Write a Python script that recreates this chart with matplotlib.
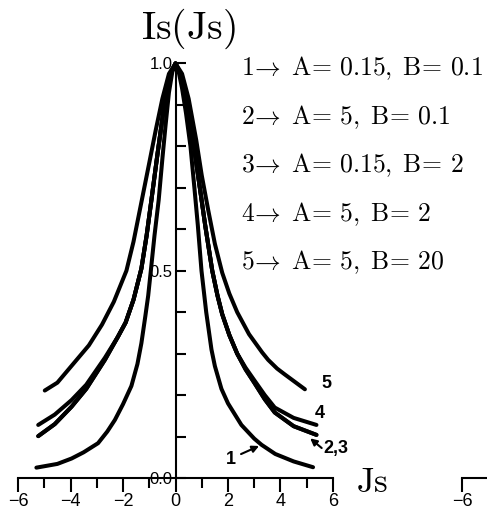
import numpy as np
import matplotlib
matplotlib.use('Agg')
import matplotlib.pyplot as plt
from matplotlib.ticker import FixedLocator

plt.rcParams['mathtext.fontset'] = 'cm'

# Values (Is vs Js), curves 2 and 3 coincide.
x1 = [-5.3, -4.5, -3.96, -3.5, -2.95, -2.6, -2.31, -2.0, -1.68, -1.45, -1.3, -1.15, -1.04,
      -0.94, -0.8, -0.64, -0.5, -0.38, -0.25, -0.12, 0.0, 0.12, 0.25, 0.4, 0.57, 0.72,
      0.85, 0.99, 1.17, 1.37, 1.5, 1.75, 2.0, 2.51, 3.0, 3.28, 3.8, 4.5, 5.24]
y1 = [0.025, 0.034, 0.047, 0.062, 0.084, 0.112, 0.14, 0.178, 0.222, 0.275, 0.325, 0.39, 0.44,
      0.5, 0.585, 0.671, 0.77, 0.85, 0.93, 0.98, 1.0, 0.98, 0.94, 0.88, 0.8, 0.7,
      0.61, 0.5, 0.4, 0.31, 0.27, 0.215, 0.18, 0.128, 0.095, 0.08, 0.058, 0.04, 0.026]

x2 = [-5.23, -4.6, -3.96, -3.4, -2.69, -2.2, -1.9, -1.6, -1.3, -1.1, -0.94, -0.7, -0.45,
      -0.22, 0.0, 0.22, 0.45, 0.7, 0.95, 1.13, 1.4, 1.6, 1.78, 2.05, 2.35, 2.67, 3.0,
      3.4, 3.78, 4.5, 5.37]
y2 = [0.101, 0.13, 0.172, 0.215, 0.285, 0.34, 0.375, 0.43, 0.505, 0.585, 0.66, 0.775, 0.89,
      0.97, 1.0, 0.97, 0.9, 0.8, 0.69, 0.61, 0.5, 0.44, 0.395, 0.345, 0.3, 0.262, 0.23,
      0.19, 0.158, 0.125, 0.104]
x3 = x2
y3 = y2

x4 = [-5.23, -4.6, -3.96, -3.4, -2.69, -2.2, -1.9, -1.6, -1.3, -1.1, -0.94, -0.7, -0.45,
      -0.22, 0.0, 0.22, 0.45, 0.7, 0.95, 1.13, 1.4, 1.6, 1.78, 2.05, 2.35, 2.67, 3.0,
      3.4, 3.78, 4.5, 5.37]
y4 = [0.128, 0.153, 0.188, 0.225, 0.29, 0.34, 0.375, 0.43, 0.505, 0.585, 0.66, 0.775, 0.89,
      0.97, 1.0, 0.97, 0.9, 0.8, 0.69, 0.61, 0.5, 0.44, 0.395, 0.345, 0.3, 0.266, 0.236,
      0.2, 0.17, 0.145, 0.128]

x5 = [-4.98, -4.5, -3.9, -3.3, -2.8, -2.35, -1.87, -1.6, -1.3, -1.0, -0.75, -0.5, -0.25,
      0.0, 0.25, 0.5, 0.79, 1.0, 1.25, 1.5, 1.78, 2.05, 2.35, 2.8, 3.3, 3.53, 3.87,
      4.16, 4.93]
y5 = [0.211, 0.23, 0.275, 0.32, 0.37, 0.425, 0.5, 0.57, 0.665, 0.76, 0.84, 0.915, 0.975,
      1.0, 0.975, 0.915, 0.815, 0.73, 0.645, 0.565, 0.495, 0.445, 0.4, 0.347, 0.303, 0.285,
      0.264, 0.25, 0.214]

params = [('1', '0.15', '0.1'), ('2', '5', '0.1'), ('3', '0.15', '2'),
          ('4', '5', '2'), ('5', '5', '20')]

xticks = [-6, -4, -2, 0, 2, 4, 6]
xminor = [-5, -3, -1, 1, 3, 5]
yticks = [0.0, 0.5, 1.0]
yminor = [0.1, 0.2, 0.3, 0.4, 0.6, 0.7, 0.8, 0.9]

fig = plt.figure(figsize=(4.87, 5.12), dpi=100)
ax = fig.add_axes([0, 0, 1, 1])
ax.set_xlim(-6.686, 11.867)
ax.set_ylim(-0.082, 1.153)

for xs, ys in [(x1, y1), (x2, y2), (x3, y3), (x4, y4), (x5, y5)]:
    ax.plot(xs, ys, color='black', lw=2.9, solid_capstyle='round', solid_joinstyle='round')

# Axes drawn through the origin
ax.spines['top'].set_visible(False)
ax.spines['right'].set_visible(False)
ax.spines['left'].set_position(('data', 0))
ax.spines['bottom'].set_position(('data', 0))
ax.spines['left'].set_bounds(0, 1.0)
ax.spines['bottom'].set_bounds(-6, 6)
ax.spines['left'].set_linewidth(1.5)
ax.spines['bottom'].set_linewidth(1.5)

ax.xaxis.set_major_locator(FixedLocator(xticks))
ax.xaxis.set_minor_locator(FixedLocator(xminor))
ax.set_xticklabels(['\u22126', '\u22124', '\u22122', '0', '2', '4', '6'],
                   family='Liberation Sans', fontsize=13)
ax.tick_params(axis='x', which='major', direction='out', length=10, width=1.5, pad=1)
ax.tick_params(axis='x', which='minor', direction='out', length=7, width=1.5)

ax.yaxis.set_major_locator(FixedLocator(yticks))
ax.yaxis.set_minor_locator(FixedLocator(yminor))
ax.set_yticklabels(['0.0', '0.5', '1.0'], family='Liberation Sans', fontsize=12)
ax.tick_params(axis='y', which='both', direction='in', length=7, width=1.5, pad=2)

# Axis titles
ax.text(7.5, -0.01, r'$\mathrm{Js}$', fontsize=25, ha='center', va='center')
ax.text(0.5, 1.083, r'$\mathrm{Is(Js)}$', fontsize=28.5, ha='center', va='center')

# Parameter list
for i, (n, a, b) in enumerate(params):
    s = r'$%s\!\rightarrow\;\mathrm{A}\!=\,%s,\;\mathrm{B}\!=\,%s$' % (n, a, b)
    ax.text(2.48, 0.988 - i * 0.117, s, fontsize=18.5, ha='left', va='center')

# Curve labels
lab = dict(family='Liberation Sans', fontweight='bold', fontsize=13, va='center')
ax.text(5.55, 0.228, '5', ha='left', **lab)
ax.text(5.3, 0.155, '4', ha='left', **lab)
ax.text(5.65, 0.07, '2,3', ha='left', **lab)
ax.text(2.1, 0.045, '1', ha='center', **lab)
ax.annotate('', xy=(x1[35], y1[35]), xytext=(2.4, 0.055),
            arrowprops=dict(arrowstyle='-|>', color='black', lw=1.5, mutation_scale=10))
ax.annotate('', xy=(5.05, 0.1), xytext=(5.65, 0.068),
            arrowprops=dict(arrowstyle='-|>', color='black', lw=1.5, mutation_scale=10))

# Edge of the neighbouring panel on the right
ax2 = fig.add_axes([462 / 487, 34 / 512, 0.65, 0.5])
ax2.set_xlim(-6, 6)
ax2.set_ylim(0, 1)
for s in ['top', 'right', 'left']:
    ax2.spines[s].set_visible(False)
ax2.spines['bottom'].set_linewidth(1.5)
ax2.set_xticks([-6])
ax2.set_xticklabels(['\u22126'], family='Liberation Sans', fontsize=13)
ax2.set_yticks([])
ax2.tick_params(axis='x', direction='out', length=10, width=1.5, pad=1)

plt.savefig('out.png', dpi=100)
plt.close()
